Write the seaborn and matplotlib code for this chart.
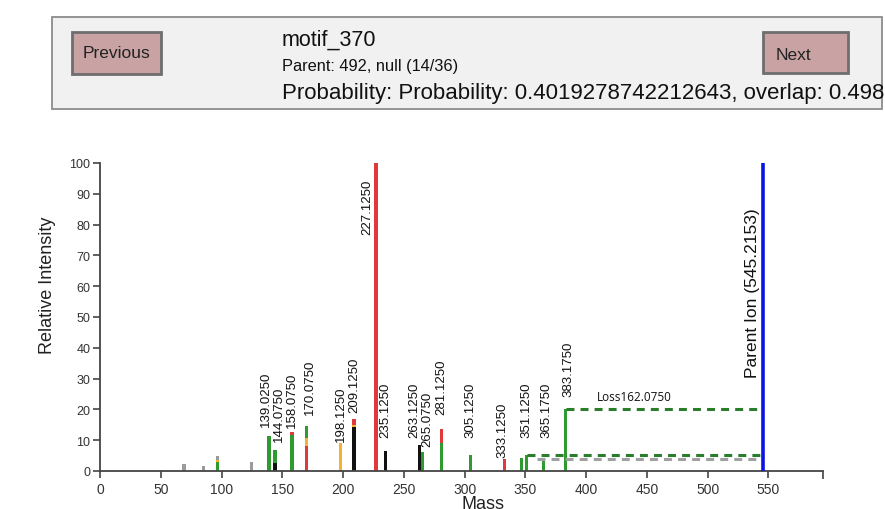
import numpy as np
import pandas as pd
import matplotlib
matplotlib.use("Agg")
import matplotlib.pyplot as plt
from matplotlib.patches import Rectangle
import seaborn as sns

# ---------------- data ----------------
peak_mass = [69.0, 85.1, 96.8, 124.7, 139.025, 144.075, 158.075, 170.075,
             198.125, 209.125, 227.125, 235.125, 263.125, 265.075, 281.125,
             305.125, 333.125, 347.1, 351.125, 365.175, 383.175]
# segments per peak, bottom -> top: (colour key, height)
peak_segments = [
    [("grey", 2.3)],
    [("grey", 1.5)],
    [("green", 2.8), ("yellow", 0.8), ("grey", 1.3)],
    [("grey", 3.0)],
    [("green", 11.5)],
    [("black", 2.6), ("green", 4.3)],
    [("green", 11.6), ("red", 1.0)],
    [("red", 8.2), ("yellow", 2.4), ("green", 4.1)],
    [("yellow", 9.0)],
    [("black", 14.2), ("yellow", 0.6), ("red", 2.1)],
    [("red", 100.0)],
    [("black", 6.4)],
    [("black", 8.5)],
    [("green", 6.3)],
    [("green", 9.0), ("red", 4.6)],
    [("green", 5.3)],
    [("red", 3.9)],
    [("green", 4.1)],
    [("green", 5.3)],
    [("green", 3.4)],
    [("green", 20.0)],
]
label_mass = [139.025, 144.075, 158.075, 170.075, 198.125, 209.125, 235.125,
              263.125, 265.075, 281.125, 305.125, 333.125, 351.125, 365.175,
              383.175]
top_label_mass = 227.125

loss_start = [383.175, 351.125, 360.0]
loss_height = [20.0, 5.1, 3.8]
loss_kind = ["loss", "loss", "greyloss"]
loss_text = "Loss162.0750"

parent_mass = 545.2153
parent_intensity = 100.0

x_max = 595
x_ticks = list(range(0, 551, 50))
y_ticks = list(range(0, 101, 10))

header_title = "motif_370"
header_parent = "Parent: 492, null (14/36)"
header_prob = "Probability: Probability: 0.4019278742212643, overlap: 0.4988"

# ---------------- layout / style ----------------
# label placement (bottom of each rotated label, in axis units) and x nudge in px
label_base = [14.6, 9.7, 14.3, 18.5, 9.7, 19.2, 11.0, 11.0, 8.1, 18.5,
              11.0, 4.5, 11.0, 11.0, 24.4]
label_nudge_px = [-3, 4, 0, 3, 0, 0, 0, -5, 5, 0, 0, -2, 0, 3, 3]
loss_text_pos = (440.0, 22.0)

colours = {"green": "#2f9a2f", "red": "#e0393b", "yellow": "#f2b233",
           "black": "#111111", "grey": "#9b9b9b"}
line_colours = {"loss": "#2a7d2a", "greyloss": "#a0a0a0"}

sns.set_theme(style="white")
plt.rcParams["font.family"] = ["Liberation Sans", "DejaVu Sans"]

W, H = 885, 510
fig = plt.figure(figsize=(W / 100, H / 100), dpi=100)
fig.patch.set_facecolor("white")


def fig_rect(x0, y0, x1, y1, **kw):
    r = Rectangle((x0 / W, 1 - y1 / H), (x1 - x0) / W, (y1 - y0) / H,
                  transform=fig.transFigure, **kw)
    fig.patches.append(r)


fig_rect(52, 18, 882, 110, facecolor="#f1f1f1", edgecolor="#8c8c8c", lw=1.3)
fig_rect(72, 33, 161, 75, facecolor="#c9a3a3", edgecolor="#6e6e6e", lw=2)
fig_rect(763, 33, 848, 74, facecolor="#c9a3a3", edgecolor="#6e6e6e", lw=2)
fig.text(117 / W, 1 - 54 / H, "Previous", ha="center", va="center",
         fontsize=12.5, color="#222222")
fig.text(793 / W, 1 - 55 / H, "Next", ha="center", va="center",
         fontsize=12.5, color="#222222")
fig.text(282 / W, 1 - 40 / H, header_title, ha="left", va="center",
         fontsize=15.5, color="#111111")
fig.text(282 / W, 1 - 66 / H, header_parent, ha="left", va="center",
         fontsize=11.8, color="#111111")
fig.text(282 / W, 1 - 93 / H, header_prob, ha="left", va="center",
         fontsize=16, color="#111111")

# axes
ax = fig.add_axes([100 / W, 38 / H, 723 / W, 308 / H])
ax.set_facecolor("white")

# stacked peaks drawn as layered bars (top segment first, lower overlay)
rows = []
for m, segs in zip(peak_mass, peak_segments):
    cum = np.cumsum([h for _, h in segs])
    n = len(segs)
    for k in range(n):
        idx = n - 1 - k
        rows.append({"mass": m, "top": cum[idx], "colour": segs[idx][0], "layer": k})
df = pd.DataFrame(rows)

bar_w_units = 2.8
for layer, sub in df.groupby("layer"):
    u = np.unique(sub["mass"])
    nw = np.min(np.diff(u)) if len(u) > 1 else 1.0
    sns.barplot(data=sub, x="mass", y="top", hue="colour", palette=colours,
                native_scale=True, dodge=False, width=bar_w_units / nw,
                errorbar=None, legend=False, saturation=1, linewidth=0,
                ax=ax)

# loss lines
for xs, yh, kind in zip(loss_start, loss_height, loss_kind):
    ax.plot([xs, parent_mass], [yh, yh], ls=(0, (2.6, 2.0)), lw=2.2,
            color=line_colours[kind], solid_capstyle="butt", zorder=3)
ax.text(loss_text_pos[0], loss_text_pos[1], loss_text, ha="center",
        va="bottom", fontsize=8.5, family=["Open Sans", "DejaVu Sans"],
        color="#111111")

# parent ion
ax.plot([parent_mass, parent_mass], [0, parent_intensity], color="#0a14e6",
        lw=2.6, zorder=4, solid_capstyle="butt")
ax.text(parent_mass - 8, 85.5, f"Parent Ion ({parent_mass:.4f})",
        rotation=90, ha="center", va="top", fontsize=12.5, color="#111111")

# peak labels
for m, base, dx in zip(label_mass, label_base, label_nudge_px):
    ax.annotate(f"{m:.4f}", xy=(m, base), xytext=(dx * 0.72, 0),
                textcoords="offset points", rotation=90, ha="center",
                va="bottom", fontsize=9.5, color="#111111")
ax.text(top_label_mass - 7.5, 95, f"{top_label_mass:.4f}", rotation=90,
        ha="center", va="top", fontsize=9.5, color="#111111")

ax.set_xlim(0, x_max)
ax.set_ylim(0, 100)
ax.set_xticks(x_ticks)
ax.set_xticks([x_max], minor=True)
ax.set_yticks(y_ticks)
ax.set_xticklabels([str(t) for t in x_ticks])
ax.set_yticklabels([str(t) for t in y_ticks])
ax.set_xlabel("")
ax.set_ylabel("")
for s in ["top", "right"]:
    ax.spines[s].set_visible(False)
for s in ["left", "bottom"]:
    ax.spines[s].set_color("#444444")
    ax.spines[s].set_linewidth(1.3)
ax.tick_params(axis="both", which="both", direction="out", length=5,
               width=1.2, color="#444444", labelcolor="#333333",
               bottom=True, left=True)
ax.tick_params(axis="x", labelsize=10, pad=3)
ax.tick_params(axis="y", labelsize=9, pad=2)
ax.tick_params(axis="x", which="minor", length=6)

fig.text(47 / W, 1 - 285 / H, "Relative Intensity", rotation=90,
         ha="center", va="center", fontsize=13, color="#222222")
fig.text(483 / W, 1 - 496 / H, "Mass", ha="center", va="top",
         fontsize=13, color="#222222")

fig.savefig("out.png", dpi=100, facecolor="white")
